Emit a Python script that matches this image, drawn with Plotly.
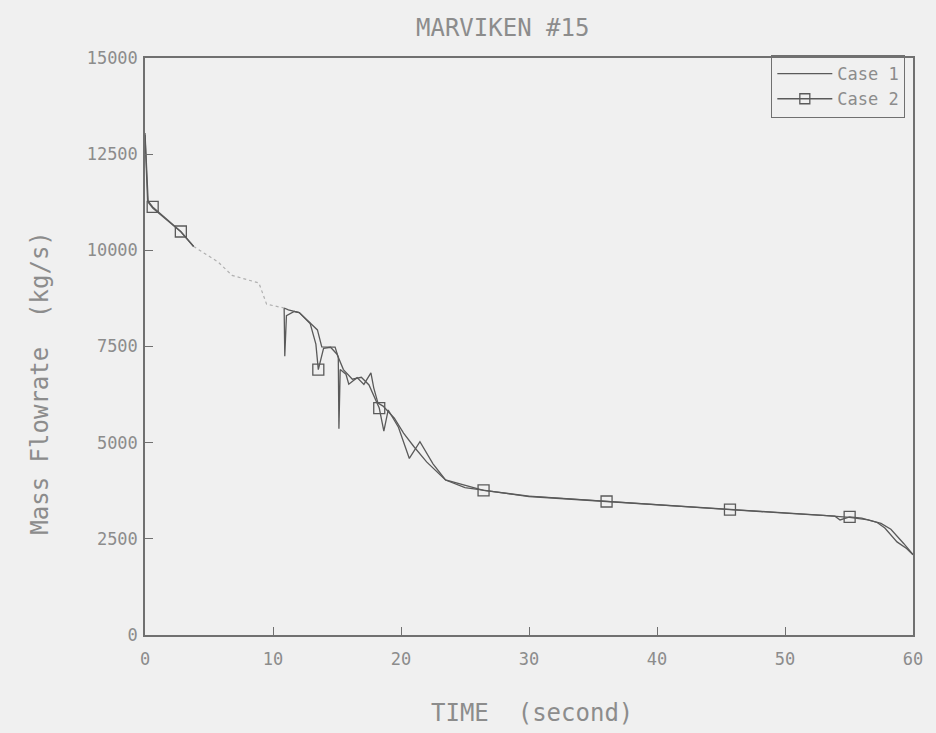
import plotly.graph_objects as go

# ---- data: MARVIKEN test 15, break mass flowrate (kg/s) vs time (s) ----
case1_t = [0.0, 0.15, 0.25, 0.6, 1.5, 2.8, 3.8, 4.8, 5.7, 6.8, 8.9, 9.5, 10.87, 10.92,
           11.05, 11.66, 12.05, 12.8, 13.47, 13.81, 14.07, 14.85, 15.1, 15.15, 15.25,
           15.7, 15.92, 16.57, 17.1, 17.65, 17.87, 18.2, 18.6, 19.48, 20.2, 21.0, 22.0,
           23.48, 25.0, 26.45, 30.0, 36.06, 40.0, 45.7, 50.0, 53.0, 55.05, 56.5, 57.5,
           58.27, 59.27, 60.0]
case1_v = [13050, 12000, 11250, 11100, 10850, 10480, 10100, 9880, 9700, 9350, 9150, 8600,
           8500, 7250, 8300, 8410, 8380, 8150, 7930, 7490, 7490, 7485, 7220, 5360, 6900,
           6780, 6520, 6690, 6515, 6815, 6425, 6030, 5950, 5635, 5250, 4900, 4500, 4030,
           3830, 3760, 3600, 3470, 3390, 3260, 3170, 3110, 3060, 2990, 2900, 2750, 2380,
           2090]
# stretch of Case 1 that is only faintly plotted (index range, inclusive)
case1_faint = (6, 12)

case2_t = [0.0, 0.2, 0.6, 1.6, 2.8, 3.8, None, 10.87, 11.2, 12.05, 12.9, 13.35, 13.54,
           13.95, 14.5, 15.0, 15.5, 16.2, 16.9, 17.5, 18.3, 18.66, 19.0, 19.8, 20.65,
           21.48, 22.5, 23.48, 26.45, 30.0, 36.06, 40.0, 45.7, 50.0, 53.9, 54.3, 55.05,
           56.0, 57.2, 57.8, 58.75, 59.5, 60.0]
case2_v = [13000, 11300, 11130, 10850, 10490, 10100, None, 8500, 8450, 8380, 8100, 7560,
           6900, 7450, 7480, 7300, 6900, 6650, 6700, 6500, 5900, 5300, 5850, 5400, 4590,
           5025, 4450, 4030, 3760, 3610, 3470, 3390, 3260, 3170, 3090, 2990, 3070, 3040,
           2925, 2780, 2420, 2250, 2085]
# points of Case 2 that carry a square symbol
case2_marker_idx = [2, 4, 12, 20, 28, 30, 32, 36]

y_ticks = [0, 2500, 5000, 7500, 10000, 12500, 15000]
y_tick_text = ["0", "2500", "5000", "7500", "10000", "12500", "15000"]
x_ticks = [0, 10, 20, 30, 40, 50, 60]

LINE = "#5a5a5a"
AXIS = "#707070"
TEXT = "#8c8c8c"
BG = "#f0f0f0"
FONT = "DejaVu Sans Mono"

a, b = case1_faint
c1_solid_t = case1_t[:a + 1] + [None] + case1_t[b:]
c1_solid_v = case1_v[:a + 1] + [None] + case1_v[b:]

fig = go.Figure()
fig.add_trace(go.Scatter(x=c1_solid_t, y=c1_solid_v, mode="lines", name="Case 1",
                         line=dict(color=LINE, width=1.3), connectgaps=False))
fig.add_trace(go.Scatter(x=case1_t[a:b + 1], y=case1_v[a:b + 1], mode="lines",
                         showlegend=False,
                         line=dict(color="#b0b0b0", width=1.2, dash="dot")))
fig.add_trace(go.Scatter(x=case2_t, y=case2_v, mode="lines", showlegend=False,
                         line=dict(color=LINE, width=1.3), connectgaps=False))
fig.add_trace(go.Scatter(x=[case2_t[i] for i in case2_marker_idx],
                         y=[case2_v[i] for i in case2_marker_idx],
                         mode="markers", showlegend=False,
                         marker=dict(symbol="square-open", size=11,
                                     line=dict(color=LINE, width=1.3), color=LINE)))
fig.add_trace(go.Scatter(x=[None], y=[None], mode="lines+markers", name="Case 2",
                         line=dict(color=LINE, width=1.3),
                         marker=dict(symbol="square-open", size=10,
                                     line=dict(color=LINE, width=1.3), color=LINE)))

axis_common = dict(showline=True, linecolor=AXIS, linewidth=1.5, mirror=True,
                   ticks="inside", ticklen=8, tickcolor=AXIS, tickwidth=1.3,
                   showgrid=False, zeroline=False,
                   tickfont=dict(family=FONT, size=17, color=TEXT))

fig.update_xaxes(range=[0, 60], tickvals=x_ticks, ticklabelstandoff=8, **axis_common)
fig.update_yaxes(range=[0, 15000], tickvals=y_ticks, ticktext=y_tick_text,
                 ticklabelstandoff=2, **axis_common)

fig.update_layout(
    width=936, height=733,
    margin=dict(l=145, r=23, t=58, b=98),
    paper_bgcolor=BG, plot_bgcolor=BG,
    showlegend=True,
    legend=dict(x=0.99, y=1.005, xanchor="right", yanchor="top",
                bordercolor=AXIS, borderwidth=1, bgcolor="rgba(0,0,0,0)",
                font=dict(family=FONT, size=17, color=TEXT),
                itemwidth=55, tracegroupgap=0),
    annotations=[
        dict(text="MARVIKEN #15", xref="paper", yref="paper", x=0.466, y=1.052,
             xanchor="center", yanchor="middle", showarrow=False,
             font=dict(family=FONT, size=24, color=TEXT)),
        dict(text="TIME  (second)", xref="paper", yref="paper", x=0.504, y=-0.135,
             xanchor="center", yanchor="middle", showarrow=False,
             font=dict(family=FONT, size=24, color=TEXT)),
        dict(text="Mass Flowrate  (kg/s)", xref="paper", yref="paper", x=-0.137, y=0.437,
             xanchor="center", yanchor="middle", showarrow=False, textangle=-90,
             font=dict(family=FONT, size=24, color=TEXT)),
    ],
)

fig.write_html("out.html")
